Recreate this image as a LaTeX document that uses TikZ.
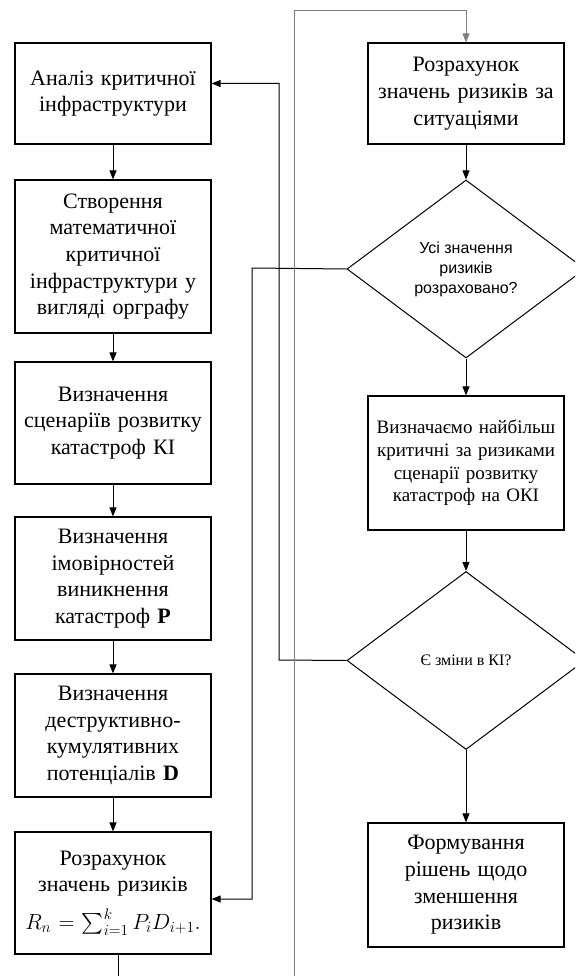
\RequirePackage{fix-cm}
\documentclass[tikz,border=0pt]{standalone}
\usepackage{amsmath}
\usepackage{fontspec}
\setmainfont{Liberation Serif}
\newfontfamily\sansua{Liberation Sans}
\usetikzlibrary{positioning, arrows.meta, shapes.geometric}

\tikzset{
  block/.style={draw, line width=1.2pt, rectangle, minimum width=196pt, text width=194pt,
    align=center, inner sep=0pt, font=\fontsize{22}{26.7}\selectfont},
  decision/.style={draw, line width=1pt, diamond, minimum width=238pt, minimum height=178pt,
    inner sep=0pt, align=center},
  flow/.style={line width=1pt, -{Triangle[length=9pt,width=7pt]}},
}

\begin{document}
\begin{tikzpicture}[x=1pt,y=1pt,on grid]
	\useasboundingbox (0,0) rectangle (575,-976);
	\clip (0,0) rectangle (575,-976);
	% left column
	\node[block, minimum height=101pt] (b1) at (113,-93.5) {Аналіз критичної\\інфраструктури};
	\node[block, minimum height=153pt] (b2) [below=163pt of b1] {Створення\\математичної\\критичної\\інфраструктури у\\вигляді орграфу};
	\node[block, minimum height=122pt] (b3) [below=166.5pt of b2] {Визначення\\сценаріїв розвитку\\катастроф КІ};
	\node[block, minimum height=123pt] (b4) [below=155.5pt of b3] {Визначення\\імовірностей\\виникнення\\катастроф \textbf{P}};
	\node[block, minimum height=123pt] (b5) [below=157pt of b4] {Визначення\\деструктивно-\\кумулятивних\\потенціалів \textbf{D}};
	\node[block, minimum height=122pt] (b6) [below=157.5pt of b5] {Розрахунок\\значень ризиків\\[11pt]$R_n=\textstyle\sum_{i=1}^{k}P_iD_{i+1}.$};
	% right column
	\node[block, minimum height=101pt] (b7) at (466,-93.5) {Розрахунок\\значень ризиків за\\ситуаціями};
	\node[decision, font=\sansua\fontsize{16}{20}\selectfont] (d1) [below=175.5pt of b7] {Усі значення\\ризиків\\розраховано?};
	\node[block, minimum height=134pt, font=\fontsize{19}{22.7}\selectfont] (b8) [below=194pt of d1] {Визначаємо найбільш\\критичні за ризиками\\сценарії розвитку\\катастроф на ОКІ};
	\node[decision, font=\fontsize{16}{20}\selectfont] (d2) [below=197.5pt of b8] {Є зміни в КІ?};
	\node[block, minimum height=124pt] (b9) [below=224.5pt of d2] {Формування\\рішень щодо\\зменшення\\ризиків};

	\coordinate (j1) at (252,-268);
	\coordinate (j2) at (279,-660);
	\coordinate (top) at (294,-11);
	\coordinate (cut) at (294,-976);
	\coordinate (b6out) at (118,-976);

	\path[flow] (b1) edge (b2)
	            (b2) edge (b3)
	            (b3) edge (b4)
	            (b4) edge (b5)
	            (b5) edge (b6)
	            (b7) edge (d1)
	            (d1) edge (b8)
	            (b8) edge (d2)
	            (d2) edge (b9);
	\draw[flow] (d1.west) -- (j1) |- ([yshift=-6pt]b6.east);
	\draw[flow] (d2.west) -- (j2) |- ([yshift=10pt]b1.east);
	\draw[flow, gray] (cut) -- (top) -| (b7.north);
	\draw[line width=1pt] (b6.south -| b6out) -- (b6out);
\end{tikzpicture}
\end{document}
